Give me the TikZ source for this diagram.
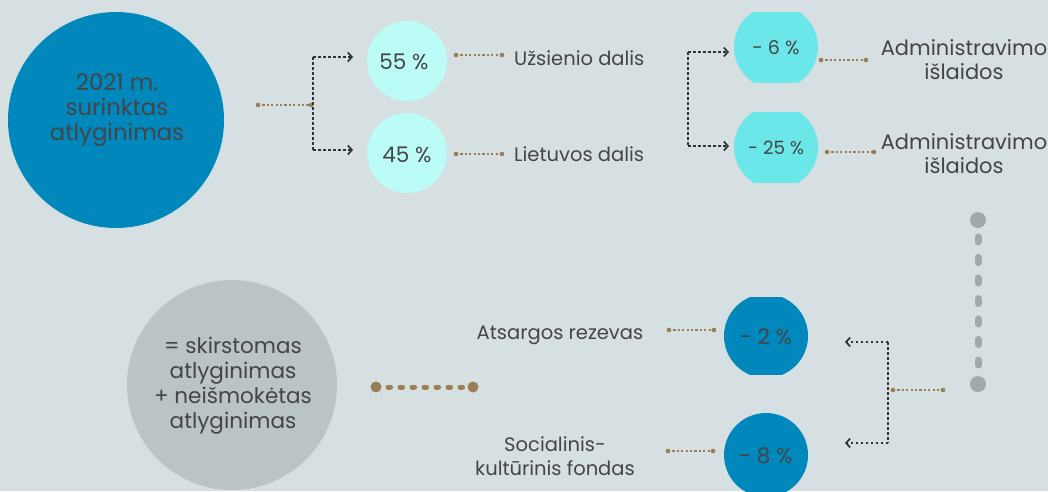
\documentclass[tikz,border=0pt]{standalone}
\usepackage{fontspec}
\setmainfont{Poppins}
\usetikzlibrary{arrows.meta,calc}
\definecolor{bg}{HTML}{D6DFE1}
\definecolor{bigblue}{HTML}{0088BD}
\definecolor{lightcyan}{HTML}{BBFCF6}
\definecolor{midcyan}{HTML}{6BE6E9}
\definecolor{brownc}{HTML}{9A7F55}
\definecolor{txt}{HTML}{454545}
\definecolor{graycirc}{HTML}{BAC3C5}
\definecolor{graydash}{HTML}{A2A9AC}
\definecolor{darkline}{HTML}{333333}
\tikzset{
  lbl/.style={text=txt, font=\fontsize{19.5}{24}\selectfont, align=center, inner sep=0pt},
  pct/.style={text=txt, font=\fontsize{21.5}{24}\selectfont, inner sep=0pt},
  bdot/.style={draw=brownc, line width=1.6pt, dash pattern=on 2.2pt off 2.2pt},
  enddot/.style={fill=brownc},
  kdot/.style={draw=darkline, line width=1.8pt, dash pattern=on 2.5pt off 2.5pt},
  karrow/.style={kdot, -{Straight Barb[length=4pt,width=9pt,line width=1.7pt]}},
}
\begin{document}
\begin{tikzpicture}[x=1pt,y=-1pt]
\fill[bg] (0,0) rectangle (1048,491);
\useasboundingbox (0,0) rectangle (1048,491);

% big blue circle
\fill[bigblue] (116,120) circle (108);
\node[lbl, font=\fontsize{22.8}{25.3}\selectfont] (src) at (117,110) {2021 m.\\surinktas\\atlyginimas};

% brown connector from big circle
\coordinate (b1a) at (258,105);
\coordinate (b1b) at (311,105);
\draw[bdot] (b1a) -- (b1b);
\fill[enddot] (b1a) circle (2.3); \fill[enddot] (b1b) circle (2.3);

% first split
\coordinate (s1t) at (313,57);
\coordinate (s1b) at (313,150);
\coordinate (a55) at (353,57);
\coordinate (a45) at (353,150);
\draw[kdot] (s1t) -- (s1b);
\draw[karrow] (s1t) -- (a55);
\draw[karrow] (s1b) -- (a45);

% 55 / 45 circles
\fill[lightcyan] (407,61) circle (40);
\fill[lightcyan] (407,153) circle (40);
\node[pct] (p55) at (404,62) {55 \%};
\node[pct] (p45) at (407,155) {45 \%};

\coordinate (u1) at (456,55); \coordinate (u2) at (502,55);
\draw[bdot] (u1) -- (u2);
\fill[enddot] (u1) circle (2.3); \fill[enddot] (u2) circle (2.3);
\node[lbl, anchor=west] (uz) at (514,58) {Užsienio dalis};

\coordinate (l1) at (456,154); \coordinate (l2) at (502,154);
\draw[bdot] (l1) -- (l2);
\fill[enddot] (l1) circle (2.3); \fill[enddot] (l2) circle (2.3);
\node[lbl, anchor=west] (lt) at (514,154) {Lietuvos dalis};

% second split
\coordinate (s2t) at (688,52);
\coordinate (s2b) at (688,146);
\coordinate (a6) at (729,52);
\coordinate (a25) at (729,146);
\draw[kdot] (s2t) -- (s2b);
\draw[karrow] (s2t) -- (a6);
\draw[karrow] (s2b) -- (a25);

\begin{scope}
\clip (700,12) rectangle (850,82);
\fill[midcyan] (776,47) circle (42);
\end{scope}
\begin{scope}
\clip (700,112) rectangle (850,182);
\fill[midcyan] (776,147) circle (42);
\end{scope}
\node[pct, font=\fontsize{19}{20}\selectfont] (m6) at (776,48) {- 6 \%};
\node[pct, font=\fontsize{18.3}{20}\selectfont] (m25) at (776,148) {- 25 \%};

\coordinate (d1) at (821,60); \coordinate (d2) at (866,60);
\draw[bdot] (d1) -- (d2);
\fill[enddot] (d1) circle (2.3); \fill[enddot] (d2) circle (2.3);
\node[lbl, font=\fontsize{21}{24}\selectfont] (ad1) at (964,60) {Administravimo\\išlaidos};

\coordinate (e1) at (827,152); \coordinate (e2) at (874,152);
\draw[bdot] (e1) -- (e2);
\fill[enddot] (e1) circle (2.3); \fill[enddot] (e2) circle (2.3);
\node[lbl, font=\fontsize{21}{24}\selectfont] (ad2) at (964,154) {Administravimo\\išlaidos};

% gray vertical dashed
\coordinate (g1) at (978,220);
\coordinate (g2) at (978,384);
\draw[graydash, line width=7pt, line cap=round, dash pattern=on 5pt off 15.5pt] ($(g1)+(0,17)$) -- (g2);
\fill[graydash] (g1) circle (8);
\fill[graydash] (g2) circle (8);

% brown connector to third split
\coordinate (f1) at (893,390); \coordinate (f2) at (943,390);
\draw[bdot] (f1) -- (f2);
\fill[enddot] (f1) circle (2.3); \fill[enddot] (f2) circle (2.3);

% third split
\coordinate (s3t) at (888,342);
\coordinate (s3b) at (888,443);
\coordinate (a2) at (845,342);
\coordinate (a8) at (845,443);
\draw[kdot] (s3t) -- (s3b);
\draw[karrow] (s3t) -- (a2);
\draw[karrow] (s3b) -- (a8);

\begin{scope}
\clip (700,297) rectangle (850,374);
\fill[bigblue] (766,336) circle (42);
\end{scope}
\fill[bigblue] (766,455) circle (42);
\node[pct] (m2) at (766,337) {- 2 \%};
\node[pct] (m8) at (766,456) {- 8 \%};

\coordinate (h1) at (669,330); \coordinate (h2) at (714,330);
\draw[bdot] (h1) -- (h2);
\fill[enddot] (h1) circle (2.3); \fill[enddot] (h2) circle (2.3);
\node[lbl] (ats) at (560,335) {Atsargos rezevas};

\coordinate (k1) at (668,451); \coordinate (k2) at (713,451);
\draw[bdot] (k1) -- (k2);
\fill[enddot] (k1) circle (2.3); \fill[enddot] (k2) circle (2.3);
\node[lbl] (soc) at (555,456) {Socialinis-\\kultūrinis fondas};

% gray circle
\fill[graycirc] (232,385) circle (105);
\node[lbl, font=\fontsize{21.5}{25}\selectfont] (res) at (233,386) {= skirstomas\\atlyginimas\\+ neišmokėtas\\atlyginimas};

% thick brown dashed
\coordinate (r1) at (376,387); \coordinate (r2) at (473,387);
\draw[brownc, line width=5pt, line cap=round, dash pattern=on 2.5pt off 9.5pt] ($(r1)+(12,0)$) -- ($(r2)+(-8,0)$);
\fill[brownc] (r1) circle (5.5);
\fill[brownc] (r2) circle (5.5);
\end{tikzpicture}
\end{document}
